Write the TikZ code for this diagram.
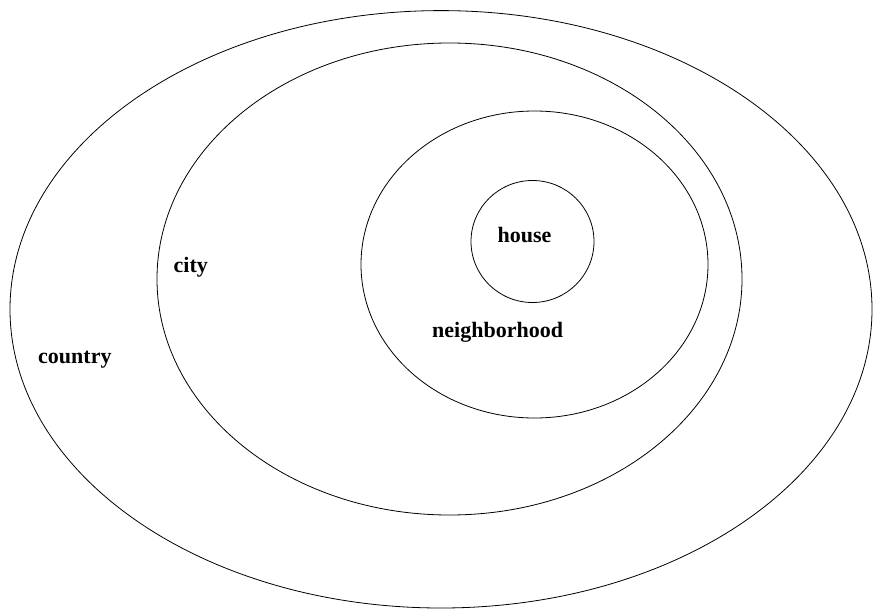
\documentclass[tikz,border=0pt]{standalone}
\usepackage{fontspec}
\setmainfont{Liberation Serif}
\tikzset{
  ring/.style={draw=black, line width=0.8pt},
  lbl/.style={font=\fontsize{22}{24}\selectfont\bfseries, inner sep=0pt, anchor=base west}
}
\begin{document}
\begin{tikzpicture}[x=1pt,y=-1pt]
\useasboundingbox (0,0) rectangle (873,610);
\draw[ring] (441,309.3) ellipse [x radius=431, y radius=298.7];
\draw[ring] (449.5,279) ellipse [x radius=292.5, y radius=236];
\draw[ring] (534.5,264.5) ellipse [x radius=173.5, y radius=153.5];
\draw[ring] (532.5,241.5) ellipse [x radius=61.5, y radius=61];
\node[lbl] (house) at (497.5,242) {house};
\node[lbl] (city) at (173.5,272) {city};
\node[lbl] (country) at (38,363) {country};
\node[lbl] (neigh) at (432,337) {neighborhood};
\end{tikzpicture}
\end{document}
